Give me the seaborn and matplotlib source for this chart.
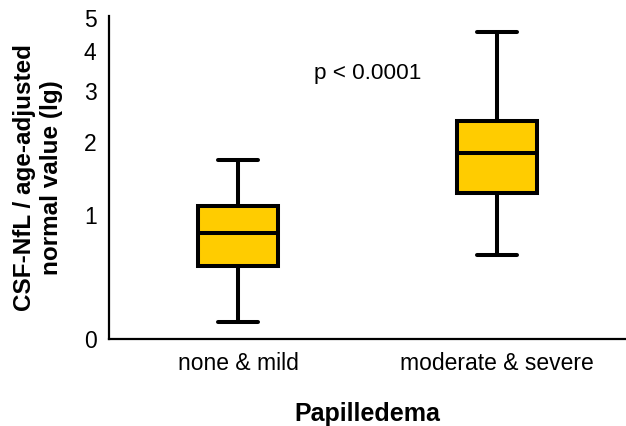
import numpy as np
import pandas as pd
import matplotlib
matplotlib.use("Agg")
import matplotlib.pyplot as plt
import seaborn as sns

categories = ["none & mild", "moderate & severe"]
none_mild = [0.10, 0.50, 0.81, 1.10, 1.72]
moderate_severe = [0.60, 1.26, 1.83, 2.38, 4.56]
y_ticks = [0, 1, 2, 3, 4, 5]
p_text = "p < 0.0001"

df = pd.DataFrame({
    "group": [categories[0]] * len(none_mild) + [categories[1]] * len(moderate_severe),
    "value": none_mild + moderate_severe,
})

sns.set_theme(style="white")
plt.rcParams["font.family"] = ["Liberation Sans", "DejaVu Sans"]
plt.rcParams["text.color"] = "black"

fig = plt.figure(figsize=(6.26, 4.26), dpi=100)
ax = fig.add_axes([109 / 626, 87 / 426, 1 - 109 / 626, (339 - 16) / 426])

ax.set_yscale("function", functions=(lambda v: np.log10(1 + np.maximum(v, -0.999)),
                                     lambda t: 10 ** t - 1))

sns.boxplot(data=df, x="group", y="value", order=categories, ax=ax,
            whis=(0, 100), width=0.31, color="#FFCC00", saturation=1,
            linecolor="black", linewidth=2.9)

ax.set_ylim(0, 5.08)
ax.set_xlim(-0.5, 1.5)
ax.set_yticks(y_ticks)
ax.set_yticklabels([str(t) for t in y_ticks])
ax.yaxis.set_minor_locator(matplotlib.ticker.NullLocator())
ax.tick_params(axis="both", length=0, labelsize=16.5, colors="black")
ax.tick_params(axis="y", pad=9)
ax.tick_params(axis="x", pad=9)

for s in ["top", "right"]:
    ax.spines[s].set_visible(False)
for s in ["left", "bottom"]:
    ax.spines[s].set_color("black")
    ax.spines[s].set_linewidth(1.6)

ax.set_xlabel("Papilledema", fontsize=18, fontweight="bold", labelpad=20, color="black")
ax.set_ylabel("CSF-NfL / age-adjusted\nnormal value (lg)", fontsize=17.5,
              fontweight="bold", labelpad=15, color="black", linespacing=1.2)

ax.text(0.5, 3.42, p_text, ha="center", va="center", fontsize=16.2, color="black")

fig.savefig("out.png", dpi=100)
